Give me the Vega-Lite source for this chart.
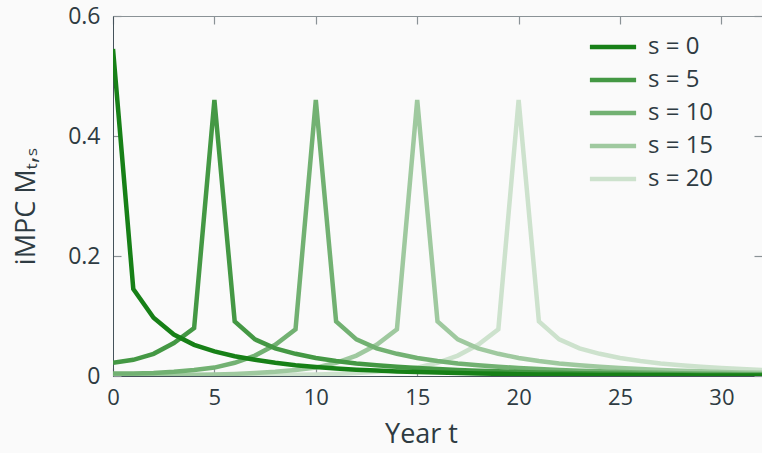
{
  "$schema": "https://vega.github.io/schema/vega-lite/v6.json",
  "autosize": "none",
  "width": 649,
  "height": 360,
  "padding": {"left": 113, "top": 16, "right": 0, "bottom": 77},
  "background": "#fafafa",
  "config": {
    "font": "Open Sans",
    "view": {"stroke": null},
    "axis": {"labelColor": "#2e3b42", "titleColor": "#2e3b42", "titleFontSize": 27, "titleFontWeight": "normal", "grid": false, "domainColor": "#44525a", "tickColor": "#8a9296", "tickWidth": 1.2}
  },
  "datasets": {
    "impc": [
      {"s":20,"t":0,"v":0.001},{"s":20,"t":1,"v":0.001},{"s":20,"t":2,"v":0.001},{"s":20,"t":3,"v":0.001},{"s":20,"t":4,"v":0.001},{"s":20,"t":5,"v":0.001},{"s":20,"t":6,"v":0.001},{"s":20,"t":7,"v":0.001},{"s":20,"t":8,"v":0.0015},{"s":20,"t":9,"v":0.002},{"s":20,"t":10,"v":0.0025},{"s":20,"t":11,"v":0.0035},{"s":20,"t":12,"v":0.005},{"s":20,"t":13,"v":0.007},{"s":20,"t":14,"v":0.01},{"s":20,"t":15,"v":0.014},{"s":20,"t":16,"v":0.022},{"s":20,"t":17,"v":0.034},{"s":20,"t":18,"v":0.052},{"s":20,"t":19,"v":0.078},{"s":20,"t":20,"v":0.46},{"s":20,"t":21,"v":0.091},{"s":20,"t":22,"v":0.061},{"s":20,"t":23,"v":0.046},{"s":20,"t":24,"v":0.037},{"s":20,"t":25,"v":0.03},{"s":20,"t":26,"v":0.025},{"s":20,"t":27,"v":0.021},{"s":20,"t":28,"v":0.018},{"s":20,"t":29,"v":0.0155},{"s":20,"t":30,"v":0.0135},{"s":20,"t":31,"v":0.0117},{"s":20,"t":32,"v":0.0102},
      {"s":15,"t":0,"v":0.001},{"s":15,"t":1,"v":0.001},{"s":15,"t":2,"v":0.001},{"s":15,"t":3,"v":0.0015},{"s":15,"t":4,"v":0.002},{"s":15,"t":5,"v":0.0025},{"s":15,"t":6,"v":0.0035},{"s":15,"t":7,"v":0.005},{"s":15,"t":8,"v":0.007},{"s":15,"t":9,"v":0.01},{"s":15,"t":10,"v":0.014},{"s":15,"t":11,"v":0.022},{"s":15,"t":12,"v":0.034},{"s":15,"t":13,"v":0.052},{"s":15,"t":14,"v":0.078},{"s":15,"t":15,"v":0.46},{"s":15,"t":16,"v":0.091},{"s":15,"t":17,"v":0.061},{"s":15,"t":18,"v":0.046},{"s":15,"t":19,"v":0.037},{"s":15,"t":20,"v":0.03},{"s":15,"t":21,"v":0.025},{"s":15,"t":22,"v":0.021},{"s":15,"t":23,"v":0.018},{"s":15,"t":24,"v":0.0155},{"s":15,"t":25,"v":0.0135},{"s":15,"t":26,"v":0.0117},{"s":15,"t":27,"v":0.0102},{"s":15,"t":28,"v":0.0089},{"s":15,"t":29,"v":0.0078},{"s":15,"t":30,"v":0.0068},{"s":15,"t":31,"v":0.006},{"s":15,"t":32,"v":0.0053},
      {"s":10,"t":0,"v":0.004},{"s":10,"t":1,"v":0.004},{"s":10,"t":2,"v":0.005},{"s":10,"t":3,"v":0.007},{"s":10,"t":4,"v":0.01},{"s":10,"t":5,"v":0.014},{"s":10,"t":6,"v":0.022},{"s":10,"t":7,"v":0.034},{"s":10,"t":8,"v":0.052},{"s":10,"t":9,"v":0.078},{"s":10,"t":10,"v":0.46},{"s":10,"t":11,"v":0.091},{"s":10,"t":12,"v":0.061},{"s":10,"t":13,"v":0.046},{"s":10,"t":14,"v":0.037},{"s":10,"t":15,"v":0.03},{"s":10,"t":16,"v":0.025},{"s":10,"t":17,"v":0.021},{"s":10,"t":18,"v":0.018},{"s":10,"t":19,"v":0.0155},{"s":10,"t":20,"v":0.0135},{"s":10,"t":21,"v":0.0117},{"s":10,"t":22,"v":0.0102},{"s":10,"t":23,"v":0.0089},{"s":10,"t":24,"v":0.0078},{"s":10,"t":25,"v":0.0068},{"s":10,"t":26,"v":0.006},{"s":10,"t":27,"v":0.0053},{"s":10,"t":28,"v":0.0047},{"s":10,"t":29,"v":0.0041},{"s":10,"t":30,"v":0.0036},{"s":10,"t":31,"v":0.0032},{"s":10,"t":32,"v":0.0028},
      {"s":5,"t":0,"v":0.022},{"s":5,"t":1,"v":0.027},{"s":5,"t":2,"v":0.037},{"s":5,"t":3,"v":0.055},{"s":5,"t":4,"v":0.08},{"s":5,"t":5,"v":0.46},{"s":5,"t":6,"v":0.091},{"s":5,"t":7,"v":0.061},{"s":5,"t":8,"v":0.046},{"s":5,"t":9,"v":0.037},{"s":5,"t":10,"v":0.03},{"s":5,"t":11,"v":0.025},{"s":5,"t":12,"v":0.021},{"s":5,"t":13,"v":0.018},{"s":5,"t":14,"v":0.0155},{"s":5,"t":15,"v":0.0135},{"s":5,"t":16,"v":0.0117},{"s":5,"t":17,"v":0.0102},{"s":5,"t":18,"v":0.0089},{"s":5,"t":19,"v":0.0078},{"s":5,"t":20,"v":0.0068},{"s":5,"t":21,"v":0.006},{"s":5,"t":22,"v":0.0053},{"s":5,"t":23,"v":0.0047},{"s":5,"t":24,"v":0.0041},{"s":5,"t":25,"v":0.0036},{"s":5,"t":26,"v":0.0032},{"s":5,"t":27,"v":0.0028},{"s":5,"t":28,"v":0.0025},{"s":5,"t":29,"v":0.0022},{"s":5,"t":30,"v":0.002},{"s":5,"t":31,"v":0.0018},{"s":5,"t":32,"v":0.0016},
      {"s":0,"t":0,"v":0.545},{"s":0,"t":1,"v":0.145},{"s":0,"t":2,"v":0.097},{"s":0,"t":3,"v":0.069},{"s":0,"t":4,"v":0.052},{"s":0,"t":5,"v":0.041},{"s":0,"t":6,"v":0.033},{"s":0,"t":7,"v":0.027},{"s":0,"t":8,"v":0.022},{"s":0,"t":9,"v":0.018},{"s":0,"t":10,"v":0.015},{"s":0,"t":11,"v":0.0125},{"s":0,"t":12,"v":0.0105},{"s":0,"t":13,"v":0.009},{"s":0,"t":14,"v":0.0077},{"s":0,"t":15,"v":0.0066},{"s":0,"t":16,"v":0.0057},{"s":0,"t":17,"v":0.0049},{"s":0,"t":18,"v":0.0042},{"s":0,"t":19,"v":0.0036},{"s":0,"t":20,"v":0.0031},{"s":0,"t":21,"v":0.0027},{"s":0,"t":22,"v":0.0024},{"s":0,"t":23,"v":0.0021},{"s":0,"t":24,"v":0.0018},{"s":0,"t":25,"v":0.0016},{"s":0,"t":26,"v":0.0014},{"s":0,"t":27,"v":0.0012},{"s":0,"t":28,"v":0.0011},{"s":0,"t":29,"v":0.001},{"s":0,"t":30,"v":0.0009},{"s":0,"t":31,"v":0.0008},{"s":0,"t":32,"v":0.0007}
    ]
  },
  "data": {"name": "impc"},
  "layer": [
    {
      "mark": {"type": "line", "strokeWidth": 4.5, "clip": true},
      "encoding": {
        "x": {"field": "t", "type": "quantitative", "scale": {"domain": [0, 32], "nice": false},
          "axis": {"title": "Year t", "values": [0, 5, 10, 15, 20, 25, 30], "tickSize": -8, "labelFontSize": 22, "labelPadding": 19, "labelFlush": false, "titlePadding": 13, "titleX": 308}},
        "y": {"field": "v", "type": "quantitative", "scale": {"domain": [0, 0.6], "nice": false},
          "axis": {"title": "iMPC Mₜ,ₛ", "values": [0, 0.2, 0.4, 0.6], "labelExpr": "datum.value == 0 ? '0' : format(datum.value, '.1f')", "tickSize": -8, "labelFontSize": 23, "labelPadding": 21, "titlePadding": 27, "titleY": 190}},
        "detail": {"field": "s", "type": "ordinal"},
        "color": {"field": "s", "type": "ordinal", "scale": {"domain": [0, 5, 10, 15, 20], "range": ["#178017", "#449844", "#72b172", "#9fc99f", "#cde2cd"]},
          "legend": {"title": null, "orient": "none", "legendX": 481, "legendY": 12, "symbolType": "M-1.4,0H1.4", "symbolSize": 1089, "symbolStrokeWidth": 4.5, "labelFontSize": 24, "labelColor": "#2e3b42", "labelOffset": 16, "rowPadding": 2, "labelExpr": "'s = ' + datum.label"}}
      }
    },
    {
      "mark": {"type": "line", "opacity": 0},
      "encoding": {
        "x": {"field": "t", "type": "quantitative", "scale": {"domain": [0, 32], "nice": false},
          "axis": {"orient": "top", "title": null, "labels": false, "values": [0, 5, 10, 15, 20, 25, 30], "tickSize": -8, "domainColor": "#8a9296"}},
        "y": {"field": "v", "type": "quantitative", "scale": {"domain": [0, 0.6], "nice": false},
          "axis": {"orient": "right", "title": null, "labels": false, "values": [0, 0.2, 0.4, 0.6], "tickSize": -8, "domainColor": "#8a9296"}},
        "detail": {"field": "s", "type": "ordinal"}
      }
    }
  ],
  "resolve": {"axis": {"x": "independent", "y": "independent"}}
}
